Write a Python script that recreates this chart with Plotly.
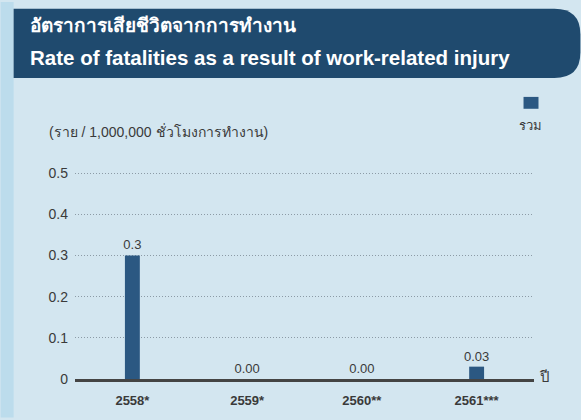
import plotly.graph_objects as go

categories = ["2558*", "2559*", "2560**", "2561***"]
values = [0.3, 0.0, 0.0, 0.03]
value_labels = ["0.3", "0.00", "0.00", "0.03"]
y_ticks = [0, 0.1, 0.2, 0.3, 0.4, 0.5]
y_tick_labels = ["0", "0.1", "0.2", "0.3", "0.4", "0.5"]
series_name = "รวม"
title_th = "อัตราการเสียชีวิตจากการทำงาน"
title_en = "Rate of fatalities as a result of work-related injury"
y_title = "(ราย / 1,000,000 ชั่วโมงการทำงาน)"
x_title = "ปี"

W, H = 581, 420
FONT = "Liberation Sans, Arial, Noto Sans, sans-serif"
TXT = "#3a3a3a"

fig = go.Figure()
fig.add_trace(go.Bar(
    x=categories, y=values, name=series_name,
    width=0.13,
    marker=dict(color="#2b5882", line=dict(width=0)),
    text=value_labels, textposition="outside", constraintext="none",
    textfont=dict(size=13, color=TXT, family=FONT),
    cliponaxis=False, showlegend=False,
))

L, R, T, B = 74.5, 46.5, 168.84, 39

px = lambda x: (x - L) / (W - L - R)
py = lambda y: (H - B - y) / (H - T - B)

shapes = [
    dict(type="rect", xref="paper", yref="paper", x0=px(0), x1=px(13),
         y0=py(H), y1=py(0), fillcolor="#bcdcec", line=dict(width=0), layer="below"),
]
r = 26
x0, x1, y0, y1 = 13, 581, 7, 77
path = (f"M {px(x0)},{py(y0)} L {px(x1 - r)},{py(y0)} "
        f"Q {px(x1)},{py(y0)} {px(x1)},{py(y0 + r)} "
        f"L {px(x1)},{py(y1 - r)} Q {px(x1)},{py(y1)} {px(x1 - r)},{py(y1)} "
        f"L {px(x0)},{py(y1)} Z")
shapes.append(dict(type="path", xref="paper", yref="paper", path=path,
                   fillcolor="#1f4a6e", line=dict(width=0), layer="below"))
shapes.append(dict(type="rect", xref="paper", yref="paper", x0=px(524), x1=px(539), y0=py(108), y1=py(96),
                   fillcolor="#2b5882", line=dict(width=0)))

annotations = [
    dict(text=f"<b>{title_th}</b>", xref="paper", yref="paper", x=px(27), y=py(24), xanchor="left",
         yanchor="middle", showarrow=False, font=dict(size=19, color="white", family=FONT)),
    dict(text=f"<b>{title_en}</b>", xref="paper", yref="paper", x=px(27), y=py(56), xanchor="left",
         yanchor="middle", showarrow=False, font=dict(size=20.5, color="white", family=FONT)),
    dict(text=y_title, xref="paper", yref="paper", x=px(46), y=py(131), xanchor="left",
         yanchor="middle", showarrow=False, font=dict(size=14, color=TXT, family=FONT)),
    dict(text=x_title, xref="paper", yref="paper", x=px(538), y=py(378), xanchor="left",
         yanchor="middle", showarrow=False, font=dict(size=15, color=TXT, family=FONT)),
    dict(text=series_name, xref="paper", yref="paper", x=px(531), y=py(125), xanchor="center",
         yanchor="middle", showarrow=False, font=dict(size=13, color=TXT, family=FONT)),
]

fig.update_layout(
    width=W, height=H,
    margin=dict(l=L, r=R, t=T, b=B, pad=0),
    paper_bgcolor="#d3e6f0", plot_bgcolor="rgba(0,0,0,0)",
    shapes=shapes, annotations=annotations,
    xaxis=dict(showgrid=False, showline=True, linecolor="#444444", linewidth=2.5,
               ticks="", tickfont=dict(size=13, color=TXT, family=FONT),
               tickvals=categories, ticktext=[f"<b>{c}</b>" for c in categories],
               ticklabelstandoff=8, fixedrange=True),
    yaxis=dict(range=[0, 0.51], tickvals=y_ticks, ticktext=y_tick_labels, showgrid=True,
               gridcolor="#8c9ba6", gridwidth=1, griddash="1px,2px", zeroline=False,
               showline=False, ticks="", ticklabelstandoff=6,
               tickfont=dict(size=14, color=TXT, family=FONT), fixedrange=True),
    font=dict(family=FONT),
)

fig.write_html("out.html", config={"displayModeBar": False},
               post_script="document.body.style.margin='0';document.body.style.overflow='hidden';")
